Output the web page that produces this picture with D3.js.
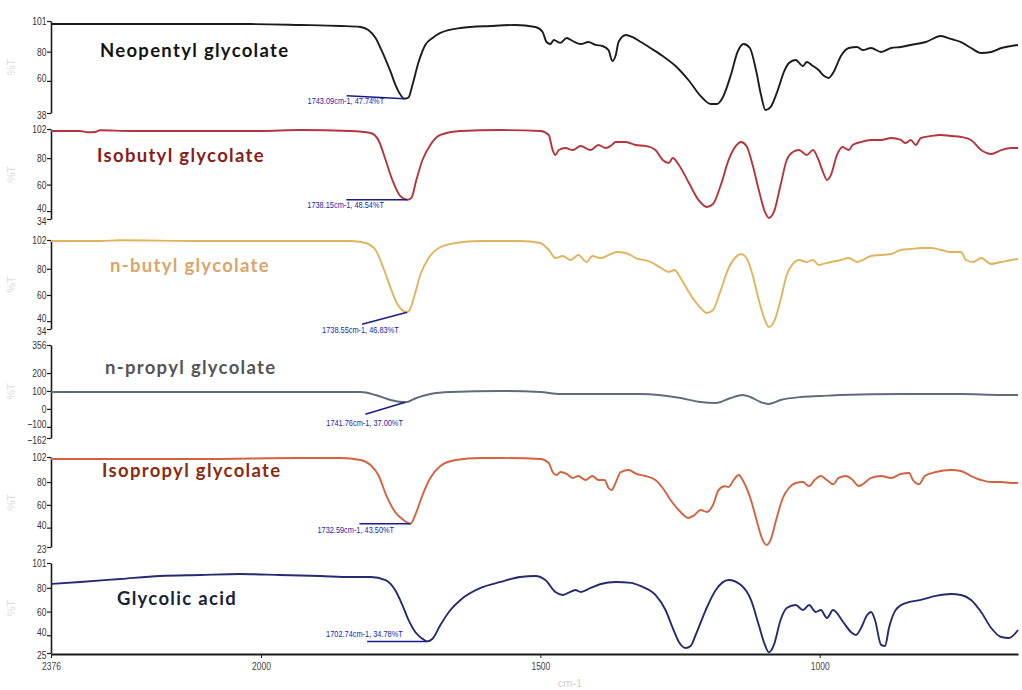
<!DOCTYPE html>
<html>
<head>
<meta charset="utf-8">
<script src="https://cdn.jsdelivr.net/npm/d3@7"></script>
<style>
  html, body { margin: 0; padding: 0; background: #fff; }
  svg { display: block; }
</style>
</head>
<body>
<svg id="chart" width="1022" height="690"></svg>
<script>
// FTIR transmittance spectra of glycolate esters and glycolic acid
// Each series: [wavenumber (cm-1), transmittance (%T)]

const neopentylT = [
  [2376,98.9],[2199,98.9],[2019,98.9],[1930,98.3],[1858,97.6],[1822,96.9],[1808,94.8],[1795,89.4],
  [1783,79.8],[1768,66.1],[1757,55.1],[1743.09,47.74],[1736,48.6],[1729,57.2],[1718,72.9],[1706,84.6],
  [1693,89.4],[1679,92.8],[1643,96.2],[1589,97.6],[1545,98.3],[1509,96.9],[1496,93.5],[1489,86.6],
  [1482,85.2],[1476,88],[1464,86],[1453,89.4],[1442,87.3],[1428,85.2],[1414,86.6],[1401,84.6],
  [1389,83.9],[1378,81.1],[1371,73.6],[1365,77.7],[1360,86.6],[1347,91.4],[1335,90],[1320,86.6],
  [1303,82.5],[1281,77],[1258,70.2],[1235,60.6],[1213,49.6],[1195,44.2],[1184,44.2],[1174,48.3],
  [1159,64],[1147,79.8],[1136,85.2],[1125,82.5],[1114,67.4],[1105,50.3],[1097,40.1],[1088,42.1],
  [1075,53.7],[1064,66.1],[1055,72.2],[1043,74.3],[1030,70.2],[1023,72.9],[1012,70.2],[1002,67.4],
  [992,63.3],[984,62],[975,66.1],[962,77],[948,82.5],[933,83.2],[923,81.1],[908,82.5],[890,79.8],
  [872,82.5],[855,83.2],[837,84.6],[810,86.6],[783,90.7],[765,88.7],[747,86.6],[729,82.5],[711,79.1],
  [693,79.8],[675,82.5],[657,83.9],[645,84.6]
];

const isobutylT = [
  [2376,100.5],[2324,100.5],[2310,99.5],[2297,99.7],[2288,101],[2234,100.5],[2109,100.5],[2001,100.5],
  [1930,101.2],[1840,100.5],[1804,99],[1790,93.7],[1777,78.6],[1765,63.5],[1751,51.4],[1738.15,48.54],
  [1731,49.9],[1722,63.5],[1711,78.6],[1697,89.9],[1679,97.5],[1643,100.5],[1571,101.2],[1500,100.5],
  [1485,97.5],[1478,86.1],[1473,82.4],[1467,86.1],[1455,87.6],[1442,86.1],[1428,89.2],[1410,86.1],
  [1396,89.9],[1383,87.6],[1374,89.2],[1365,92.2],[1347,92.2],[1329,89.9],[1312,89.2],[1294,86.1],
  [1281,78.6],[1270,76.3],[1263,80.1],[1252,74.8],[1234,61.2],[1217,48.4],[1202,43.1],[1191,45.3],
  [1177,59.7],[1163,78.6],[1150,89.2],[1141,92.2],[1131,89.2],[1120,74.8],[1109,55.9],[1098,39.3],
  [1091,34.8],[1082,39.3],[1070,59.7],[1059,78.6],[1048,84.6],[1037,86.1],[1023,82.4],[1012,86.1],
  [1002,78.6],[994,69.5],[987,63.5],[980,67.2],[969,82.4],[959,88.4],[948,86.1],[941,89.9],[926,92.2],
  [908,93.7],[890,93.7],[872,95.2],[855,93.7],[846,91.4],[837,93.7],[828,89.9],[819,95.2],[801,96.7],
  [783,97.5],[765,96.7],[747,96],[729,93.7],[711,86.1],[693,83.1],[675,86.1],[657,87.6],[645,87.6]
];

const nButylT = [
  [2376,101.2],[2288,101.2],[2252,101.8],[2109,101.2],[1930,101.2],[1840,101.2],[1813,99.7],[1795,94.4],
  [1781,80.6],[1768,65.3],[1756,53.1],[1738.55,46.83],[1734,48.5],[1725,60],[1715,75.3],[1700,88.2],
  [1682,95.9],[1652,99.7],[1607,101.2],[1536,101.2],[1500,99.7],[1485,94.4],[1473,88.2],[1460,89.8],
  [1446,86.7],[1432,90.5],[1417,85.2],[1407,89.8],[1392,88.2],[1378,90.5],[1363,92.8],[1347,92.1],
  [1329,88.2],[1302,85.2],[1284,80.6],[1270,77.6],[1260,79.1],[1249,73],[1231,60],[1213,50],[1202,46.2],
  [1191,48.5],[1177,63.8],[1163,80.6],[1150,89],[1141,91.3],[1131,88.2],[1120,75.3],[1109,56.2],
  [1098,40.9],[1091,35.5],[1082,39.4],[1070,56.2],[1059,75.3],[1048,83.7],[1037,86.7],[1023,85.2],
  [1012,86.7],[1002,82.9],[994,83.7],[980,85.2],[962,86.7],[948,88.2],[933,85.2],[923,86.7],[908,89.8],
  [890,90.5],[872,91.3],[855,94.4],[837,95.1],[819,95.9],[801,95.9],[783,94.4],[765,92.8],[747,92.8],
  [738,86.7],[725,85.2],[711,88.2],[693,83.7],[675,85.2],[657,86.7],[645,87.5]
];

const nPropylT = [
  [2376,94],[1930,94],[1822,94],[1795,77.5],[1768,49.7],[1741.76,37],[1722,60.8],[1697,83],[1661,94],
  [1571,99.8],[1500,94],[1464,83],[1392,83],[1320,83],[1249,60.8],[1213,38.5],[1186,33],[1159,60.8],
  [1138,77.5],[1124,66.4],[1106,38.5],[1092,27.4],[1070,49.7],[1034,66.4],[998,72],[962,77.5],[855,83],
  [747,83],[675,77.5],[645,77.5]
];

const isopropylT = [
  [2376,100.2],[2288,100.2],[2109,100.2],[1930,101.1],[1858,101.1],[1822,99.4],[1804,95],[1790,86.2],
  [1776,68.6],[1760,53.7],[1745,46.7],[1732.59,43.5],[1722,53.7],[1711,68.6],[1697,83.6],[1679,94.1],
  [1652,99.4],[1607,101.1],[1571,101.1],[1500,100.2],[1485,96.7],[1478,88.8],[1471,86.2],[1464,88.8],
  [1453,87.1],[1442,83.6],[1432,85.3],[1419,81.8],[1407,85.3],[1396,81.8],[1385,81.8],[1378,74.8],
  [1372,73],[1367,77.4],[1356,88.8],[1342,90.6],[1328,87.1],[1312,85.3],[1294,81.8],[1281,74.8],
  [1267,64.3],[1249,53.7],[1235,48.5],[1224,51.1],[1213,55.5],[1202,53.7],[1191,59.9],[1181,73],
  [1170,76.3],[1163,75.7],[1154,81.8],[1145,86.2],[1136,80],[1123,64.3],[1113,46.7],[1102,29.1],
  [1095,24.8],[1088,29.1],[1077,48.5],[1066,66],[1055,74.8],[1043,79.2],[1030,80],[1019,76.5],
  [1009,81.8],[998,85.3],[987,81.8],[976,78.1],[966,83.6],[953,85.3],[941,81.8],[930,76.5],[923,78.1],
  [908,83.6],[890,85.3],[872,83.6],[855,87.1],[840,88],[833,81.8],[822,78.1],[812,85.3],[792,88.8],
  [765,90.6],[747,89.7],[729,85.3],[711,81.8],[693,80],[675,80],[657,79.2],[645,79.2]
];

const glycolicAcidT = [
  [2376,83.3],[2324,85],[2252,87.5],[2181,90],[2109,90.9],[2037,91.7],[1966,90.9],[1894,90],[1840,89.2],
  [1804,89.2],[1777,86.6],[1760,78.2],[1747,65.5],[1736,52.9],[1724,42.7],[1711,37],[1702.74,34.78],
  [1693,37],[1679,48.6],[1661,61.3],[1643,69.8],[1607,79.9],[1571,85],[1536,89.2],[1509,90],[1491,86.6],
  [1473,76.5],[1460,74],[1450,75.7],[1437,78.2],[1428,76.5],[1410,79.9],[1392,83.3],[1365,85],[1338,84.2],
  [1321,81.6],[1294,74],[1276,61.3],[1263,46.1],[1252,34.3],[1240,29.2],[1231,30.9],[1222,40.2],
  [1204,61.3],[1186,78.2],[1163,86.6],[1141,82.4],[1123,69.8],[1109,48.6],[1098,31.8],[1091,25.5],
  [1082,31.8],[1070,52.9],[1059,63],[1043,65.5],[1030,61.3],[1019,65.5],[1007,59.6],[998,61.3],
  [987,54.6],[976,61.3],[958,51.2],[944,42.7],[935,40.2],[926,46.1],[915,57.1],[908,59.6],[901,52.9],
  [890,31.8],[883,30.9],[876,46.1],[864,61.3],[846,67.2],[819,69.8],[792,73.2],[765,74.8],[747,74],
  [729,69.8],[711,59.6],[693,46.1],[675,38.5],[661,37.7],[645,44.4]
];

const compoundNames = ["Neopentyl glycolate", "Isobutyl glycolate", "n-butyl glycolate",
                       "n-propyl glycolate", "Isopropyl glycolate", "Glycolic acid"];
const seriesT = [neopentylT, isobutylT, nButylT, nPropylT, isopropylT, glycolicAcidT];
const yDomains = [[38, 101], [34, 102], [34, 102], [-162, 356], [23, 102], [25, 101]];
const yTickValues = [
  [101, 80, 60, 38],
  [102, 80, 60, 40, 34],
  [102, 80, 60, 40, 34],
  [356, 200, 100, 0, -100, -162],
  [102, 80, 60, 40, 23],
  [101, 80, 60, 40, 25]
];
// Marked carbonyl band minimum of each spectrum: [cm-1, %T]
const peakMarks = [[1743.09, 47.74], [1738.15, 48.54], [1738.55, 46.83],
                   [1741.76, 37.00], [1732.59, 43.50], [1702.74, 34.78]];
const xTickValues = [2376, 2000, 1500, 1000];
const xDomain = [2376, 645];

// ---- styling / layout ----
const lineColors = ["#1c1c1c", "#b5353d", "#e2b35e", "#5f6d7a", "#d2633e", "#262b6f"];
const nameColors = ["#141414", "#8a1c1c", "#dca468", "#555555", "#8c2a12", "#1a2238"];
const panelTop = [21, 129, 240, 345, 457, 563];
const panelBottom = [113, 219, 329, 438, 547, 653];
const namePos = [[100, 57], [97, 162], [110, 272], [105, 374], [102, 477], [117, 605]];
// label start offset and leader-line start offset, relative to the marked point
const markLayout = [
  { tx: -97, ty: 5, lx: -58, ly: -3 },
  { tx: -100, ty: 8, lx: -61, ly: 0 },
  { tx: -85, ty: 21, lx: -45, ly: 12 },
  { tx: -79, ty: 24, lx: -40, ly: 12 },
  { tx: -93, ty: 9, lx: -51, ly: 0 },
  { tx: -101, ty: -4, lx: -60, ly: 0 }
];

const svg = d3.select("#chart");
const left = 51, right = 1018;
const x = d3.scaleLinear().domain(xDomain).range([left, right]);
const tickFont = '"Liberation Sans", Arial, sans-serif';

// narrow look for the small instrument-style numerals
function narrowTicks(sel, shiftFor) {
  sel.each(function (d, k, nodes) {
    const t = d3.select(this);
    const dy = shiftFor ? shiftFor(d, k, nodes.length) : 0;
    t.attr("font-family", tickFont).attr("font-size", 11.5).attr("fill", "#333")
     .attr("transform", `translate(0,${dy}) scale(0.74,1)`);
  });
}

seriesT.forEach((data, i) => {
  const y = d3.scaleLinear().domain(yDomains[i]).range([panelBottom[i], panelTop[i]]);
  const g = svg.append("g");

  // faint %T axis title
  g.append("text")
    .attr("transform", `translate(15,${(panelTop[i] + panelBottom[i]) / 2}) rotate(-90)`)
    .attr("text-anchor", "middle")
    .attr("font-family", "Liberation Sans, sans-serif")
    .attr("font-size", 11)
    .attr("fill", "#dcdcdc")
    .text("%T");

  // left axis
  const axis = g.append("g")
    .attr("transform", `translate(${left},0)`)
    .call(d3.axisLeft(y).tickValues(yTickValues[i]).tickSize(4).tickSizeOuter(0).tickPadding(2)
      .tickFormat(d3.format("d")));
  axis.select(".domain").attr("stroke", "#1a1a1a").attr("stroke-width", 1.6);
  axis.selectAll(".tick line").attr("stroke", "#1a1a1a").attr("stroke-width", 1.2);
  const n = yTickValues[i].length;
  narrowTicks(axis.selectAll(".tick text"), (d, k) => (k === n - 2 ? -3 : k === n - 1 ? 2 : 0));

  // spectrum
  const line = d3.line()
    .x(d => x(d[0]))
    .y(d => y(d[1]))
    .curve(d3.curveMonotoneX);
  g.append("path")
    .datum(data)
    .attr("fill", "none")
    .attr("stroke", lineColors[i])
    .attr("stroke-width", 1.9)
    .attr("stroke-linejoin", "round")
    .attr("d", line);

  // compound name
  g.append("text")
    .attr("x", namePos[i][0])
    .attr("y", namePos[i][1])
    .attr("font-family", "Lato, 'Open Sans', sans-serif")
    .attr("font-weight", 700)
    .attr("font-size", 18.5)
    .attr("letter-spacing", "1.3px")
    .attr("fill", nameColors[i])
    .text(compoundNames[i]);

  // peak annotation
  const [pw, pt] = peakMarks[i];
  const px = x(pw), py = y(pt);
  const m = markLayout[i];
  g.append("line")
    .attr("x1", px + m.lx).attr("y1", py + m.ly)
    .attr("x2", px).attr("y2", py)
    .attr("stroke", "#1b1b8c").attr("stroke-width", 1.5);
  g.append("text")
    .attr("transform", `translate(${px + m.tx},${py + m.ty}) scale(0.82,1)`)
    .attr("font-family", tickFont)
    .attr("font-size", 9)
    .attr("fill", "#1d1da8")
    .text(`${pw.toFixed(2)}cm-1, ${pt.toFixed(2)}%T`);
});

// bottom wavenumber axis
const xAxis = svg.append("g")
  .attr("transform", `translate(0,${panelBottom[5] + 1})`)
  .call(d3.axisBottom(x).tickValues(xTickValues).tickSize(4).tickSizeOuter(0).tickPadding(4)
    .tickFormat(d3.format("d")));
xAxis.select(".domain").attr("stroke", "#1a1a1a").attr("stroke-width", 1.8);
xAxis.selectAll(".tick line").attr("stroke", "#1a1a1a");
narrowTicks(xAxis.selectAll(".tick text"));
xAxis.selectAll(".tick text").attr("fill", "#444");

svg.append("text")
  .attr("x", 570).attr("y", 687)
  .attr("text-anchor", "middle")
  .attr("font-family", "Liberation Sans, sans-serif")
  .attr("font-size", 11)
  .attr("fill", "#d0d0d0")
  .text("cm-1");
</script>
</body>
</html>
